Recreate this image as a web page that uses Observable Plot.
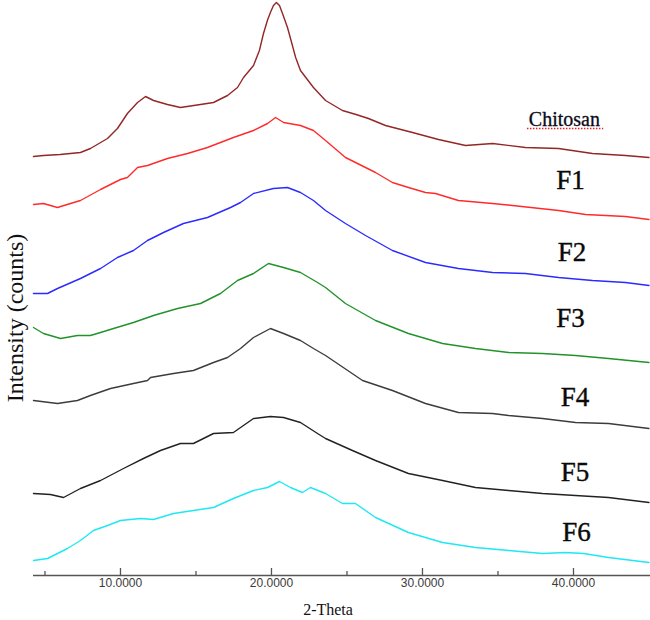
<!DOCTYPE html>
<html>
<head>
<meta charset="utf-8">
<script src="https://cdn.jsdelivr.net/npm/d3@7"></script>
<script src="https://cdn.jsdelivr.net/npm/@observablehq/plot@0.6"></script>
<style>
  html, body { margin: 0; padding: 0; background: #fff; }
  #chart svg { display: block; }
</style>
</head>
<body>
<div id="chart"></div>
<script>
// Series names and colours
const seriesNames = ["Chitosan", "F1", "F2", "F3", "F4", "F5", "F6"];
const seriesColors = ["#942626", "#ff2b2b", "#2b2bff", "#22922a", "#3c3c3c", "#222222", "#1ee8f2"];

// [2-Theta, intensity (counts, stacked display)]
const chitosan = [[4.24,419],[4.90,420],[6.0,421],[7.35,423],[8.01,427],[9.14,437],[9.80,447],[10.46,462],[11.13,473],[11.66,479],[12.19,475],[13.11,471],[13.97,468],[15.30,471],[16.16,473],[17.09,480],[17.75,488],[18.15,498],[18.81,510],[19.2,525],[19.47,542],[19.75,556],[19.93,563],[20.13,570],[20.33,573],[20.53,570],[20.73,562],[21.06,548],[21.26,537],[21.6,518],[21.92,505],[22.78,488],[23.58,475],[24.70,465],[25.6,461],[26.42,457],[27.55,450],[29.34,443],[31.06,436],[32.85,430],[34.64,432],[36.82,428],[39.01,427],[41.26,422],[43.44,420],[45.0,418]];
const f1 = [[4.24,371],[4.90,372],[5.83,368],[6.69,372],[7.35,375],[8.68,386],[10.0,396],[10.46,398],[11.13,408],[11.79,410],[13.11,417],[14.44,422],[15.76,428],[17.48,438],[18.81,445],[19.74,452],[20.27,458],[20.80,453],[21.92,450],[22.78,445],[23.58,435],[24.90,418],[26.89,403],[28.01,393],[29.07,388],[30.20,383],[30.86,382],[32.38,375],[34.64,372],[35.96,370],[39.01,365],[40.80,361],[43.44,359],[45.0,356]];
const f2 = [[4.24,282],[5.17,282],[5.83,287],[7.35,297],[8.68,307],[9.80,318],[10.86,325],[11.79,335],[12.85,343],[14.17,352],[15.76,358],[17.29,368],[17.95,373],[18.81,382],[20.13,387],[21.06,388],[21.92,383],[22.78,375],[23.58,365],[24.90,352],[26.23,340],[28.01,325],[30.20,313],[32.38,307],[34.64,303],[36.82,302],[39.01,298],[41.26,295],[43.44,293],[45.0,290]];
const f3 = [[4.24,248],[4.90,242],[6.03,237],[7.15,240],[8.01,240],[8.68,243],[9.54,247],[10.86,253],[12.19,260],[13.78,267],[15.30,272],[16.62,282],[17.75,295],[18.81,302],[19.80,312],[20.80,308],[21.92,303],[23.05,293],[23.58,288],[24.90,272],[26.89,255],[29.07,242],[31.33,232],[33.51,227],[35.70,223],[37.95,222],[40.13,220],[42.32,217],[45.0,213]];
const f4 = [[4.24,175],[5.83,172],[7.15,175],[8.01,180],[9.34,187],[10.86,192],[11.79,195],[11.99,198],[13.51,202],[14.83,205],[16.16,213],[17.09,218],[17.95,227],[18.81,238],[19.93,247],[20.80,242],[21.92,235],[22.78,227],[23.58,220],[26.03,195],[28.01,185],[30.20,172],[32.38,163],[34.64,162],[35.70,160],[37.95,157],[40.13,153],[42.32,152],[45.0,147]];
const f5 = [[4.24,82],[5.36,81],[6.23,78],[7.35,87],[8.68,95],[10.2,107],[11.52,117],[12.65,125],[13.97,132],[14.83,132],[16.16,142],[17.48,143],[18.81,157],[19.93,159],[20.80,158],[21.92,153],[23.05,142],[23.58,137],[25.36,125],[26.89,115],[29.07,102],[31.33,95],[33.51,88],[35.70,85],[37.95,82],[40.13,80],[42.32,78],[45.0,73]];
const f6 = [[4.24,15],[5.17,17],[6.49,27],[7.35,35],[8.21,45],[9.14,50],[10.0,55],[11.33,57],[12.19,56],[13.51,62],[14.83,65],[16.16,68],[17.48,77],[18.81,85],[19.74,88],[20.53,94],[21.26,88],[22.05,83],[22.58,88],[23.58,82],[24.70,72],[25.56,72],[26.89,58],[29.07,43],[31.33,33],[33.51,28],[35.70,25],[37.95,22],[39.47,23],[40.66,22],[42.32,18],[45.0,13]];
const seriesValues = [chitosan, f1, f2, f3, f4, f5, f6];

// Series label anchors (2-Theta, intensity)
const labelTheta = [39.4, 39.8, 39.9, 39.8, 40.1, 40.1, 40.2];
const labelIntensity = [456, 395, 323, 257, 178, 103, 43];

// Axis ticks
const majorTicks = [10, 20, 30, 40];
const minorTicks = [5, 15, 25, 35];
const xLabel = "2-Theta";
const yLabel = "Intensity (counts)";

const rows = [];
seriesValues.forEach((s, i) => s.forEach(([t, v]) => rows.push({name: seriesNames[i], theta: t, intensity: v})));
const labels = seriesNames.map((n, i) => ({name: n, theta: labelTheta[i], intensity: labelIntensity[i]}));
// spell-check style underline below the "Chitosan" label
const squiggle = [{x1: labelTheta[0] - 2.45, x2: labelTheta[0] + 2.6, y: labelIntensity[0] - 9}];

const chart = Plot.plot({
  width: 650,
  height: 620,
  marginLeft: 33,
  marginRight: 0,
  marginTop: 0,
  marginBottom: 45,
  style: {background: "#fff"},
  x: {domain: [4.24, 45.1]},
  y: {domain: [0, 575], axis: null},
  color: {domain: seriesNames, range: seriesColors},
  marks: [
    Plot.line(rows, {x: "theta", y: "intensity", z: "name", stroke: "name", strokeWidth: 1.4, curve: "linear"}),
    Plot.ruleY([0], {stroke: "#555", strokeWidth: 1.5}),
    Plot.ruleX(majorTicks, {y1: 0, y2: 7, stroke: "#555", strokeWidth: 1.3}),
    Plot.ruleX(minorTicks, {y1: 0, y2: 4, stroke: "#555", strokeWidth: 1.3}),
    Plot.axisX(majorTicks, {tickSize: 0, tickPadding: 3, tickFormat: d3.format(".4f"), fontSize: 12, fontFamily: "Liberation Sans", fill: "#3a3a3a", label: null}),
    Plot.text([xLabel], {frameAnchor: "bottom", dy: 39, dx: -14, fontSize: 16, fontFamily: "Liberation Serif", fill: "#111"}),
    Plot.text([yLabel], {frameAnchor: "left", textAnchor: "middle", rotate: -90, dx: -18, dy: 30, fontSize: 24, fontFamily: "Liberation Serif", fill: "#111"}),
    Plot.ruleY(squiggle, {x1: "x1", x2: "x2", y: "y", stroke: "#e62020", strokeWidth: 1.6, strokeDasharray: "1.5,1.5"}),
    Plot.text(labels.slice(0, 1), {x: "theta", y: "intensity", text: "name", fontSize: 20, fontFamily: "Liberation Serif", fill: "#0a0a1a", stroke: "#0a0a1a", strokeWidth: 0.3}),
    Plot.text(labels.slice(1), {x: "theta", y: "intensity", text: "name", fontSize: 27, fontFamily: "Liberation Serif", fill: "#0a0a0a", stroke: "#0a0a0a", strokeWidth: 0.4})
  ]
});
document.getElementById("chart").appendChild(chart);
</script>
</body>
</html>
